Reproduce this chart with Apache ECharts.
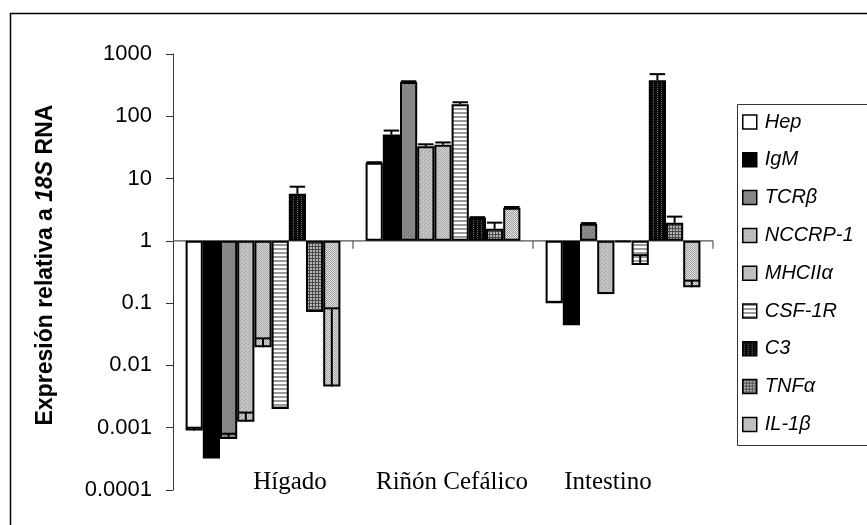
<!DOCTYPE html>
<html>
<head>
<meta charset="utf-8">
<script src="https://cdn.jsdelivr.net/npm/echarts@6/dist/echarts.min.js"></script>
<style>
  html, body { margin: 0; padding: 0; background: #fff; }
  #chart { width: 867px; height: 525px; }
</style>
</head>
<body>
<div id="chart"></div>
<script>
// Tissues on the category axis
const categories = ['Hígado', 'Riñón Cefálico', 'Intestino'];
// Genes, one bar series each
const seriesNames = ['Hep', 'IgM', 'TCRβ', 'NCCRP-1', 'MHCIIα', 'CSF-1R', 'C3', 'TNFα', 'IL-1β'];

// Relative expression (vs 18S RNA), per tissue
const hep    = [0.0009, 18, 0.1];
const igm    = [0.00032, 51, 0.044];
const tcrb   = [0.00066, 355, 1.88];
const nccrp1 = [0.00125, 33, 0.14];
const mhc    = [0.0195, 35, 0.95];
const csf1r  = [0.002, 156, 0.41];
const c3     = [5.7, 2.35, 380];
const tnfa   = [0.072, 1.56, 1.95];
const il1b   = [0.0046, 3.4, 0.18];

// Upper error (added to the value), per tissue
const hepErr    = [0.0001, 0.3, 0.005];
const igmErr    = [0, 8, 0];
const tcrbErr   = [0.00014, 10, 0.05];
const nccrp1Err = [0.0005, 2.5, 0.005];
const mhcErr    = [0.0077, 3, 0];
const csf1rErr  = [0.0001, 12, 0.18];
const c3Err     = [1.7, 0.05, 95];
const tnfaErr   = [0.003, 0.4, 0.5];
const il1bErr   = [0.078, 0.1, 0.05];

// Y axis tick labels, from 10^-4 to 10^3
const yTickLabels = ['0.0001', '0.001', '0.01', '0.1', '1', '10', '100', '1000'];
const baselineValue = 1;

const values = [hep, igm, tcrb, nccrp1, mhc, csf1r, c3, tnfa, il1b];
const errors = [hepErr, igmErr, tcrbErr, nccrp1Err, mhcErr, csf1rErr, c3Err, tnfaErr, il1bErr];

// ---- fill patterns ----
function tile(w, h, bg, fg, pts) {
  const cv = document.createElement('canvas');
  cv.width = w; cv.height = h;
  const ctx = cv.getContext('2d');
  ctx.fillStyle = bg; ctx.fillRect(0, 0, w, h);
  ctx.fillStyle = fg;
  pts.forEach(p => ctx.fillRect(p[0], p[1], p[2] || 1, p[3] || 1));
  return { image: cv, repeat: 'repeat' };
}
const fills = [
  '#ffffff',
  '#000000',
  tile(4, 4, '#8a8a8a', '#6e6e6e', [[0, 0], [2, 2]]),
  tile(4, 4, '#c2c2c2', '#a4a4a4', [[0, 0], [2, 2], [1, 3]]),
  tile(2, 2, '#d6d6d6', '#a8a8a8', [[0, 0], [1, 1]]),
  tile(1, 4, '#ffffff', '#9a9a9a', [[0, 0, 1, 2]]),
  tile(4, 4, '#0a0a0a', '#6a6a6a', [[1, 0], [1, 2]]),
  tile(3, 3, '#b4b4b4', '#4a4a4a', [[0, 0, 3, 1], [0, 0, 1, 3]]),
  tile(2, 2, '#e2e2e2', '#a0a0a0', [[0, 0], [1, 1]])
];

const catGap = 0.14;
const nSeries = seriesNames.length;

const barSeries = seriesNames.map((name, si) => ({
  name: name,
  type: 'bar',
  data: values[si],
  barGap: '0%',
  barCategoryGap: (catGap * 100) + '%',
  z: 2,
  itemStyle: { color: fills[si], borderColor: '#000', borderWidth: 2 }
}));

// error bars, placed over each bar via the axes' own coordinates
const errData = [];
values.forEach((arr, si) => arr.forEach((v, ci) => errData.push([ci, si, v, errors[si][ci]])));

const errorSeries = {
  type: 'custom',
  name: 'errors',
  z: 5,
  silent: true,
  encode: { x: 0, y: 2 },
  data: errData,
  renderItem: function (params, api) {
    const ci = api.value(0), si = api.value(1), v = api.value(2), e = api.value(3);
    if (!e) return null;
    const band = api.size([1, 0])[0];
    const bw = band * (1 - catGap) / nSeries;
    const p0 = api.coord([ci, v]);
    const p1 = api.coord([ci, v + e]);
    const x = p0[0] + (si - (nSeries - 1) / 2) * bw;
    const half = bw * 0.45;
    const st = { stroke: '#000', lineWidth: 2 };
    return {
      type: 'group',
      children: [
        { type: 'line', shape: { x1: x, y1: p0[1], x2: x, y2: p1[1] }, style: st },
        { type: 'line', shape: { x1: x - half, y1: p1[1], x2: x + half, y2: p1[1] }, style: st }
      ]
    };
  }
};

// horizontal axis line crossing the value axis at 1, with category-boundary ticks
const baselineSeries = {
  type: 'custom',
  name: 'baseline',
  z: 1,
  silent: true,
  encode: { x: 0, y: 1 },
  data: categories.map((c, i) => [i, baselineValue]),
  renderItem: function (params, api) {
    const p = api.coord([api.value(0), api.value(1)]);
    const band = api.size([1, 0])[0];
    const st = { stroke: '#555', lineWidth: 1.2 };
    return {
      type: 'group',
      children: [
        { type: 'line', shape: { x1: p[0] - band / 2, y1: p[1], x2: p[0] + band / 2, y2: p[1] }, style: st },
        { type: 'line', shape: { x1: p[0] + band / 2, y1: p[1], x2: p[0] + band / 2, y2: p[1] + 8 }, style: st }
      ]
    };
  }
};

// per-label horizontal nudges of the tissue names
const labelPad = [[0, 0, 0, 54], [0, 0, 0, 18], [0, 30, 0, 0]];
const richCats = {};
labelPad.forEach((pd, i) => {
  richCats['c' + i] = { padding: pd, fontFamily: 'Liberation Serif, Times New Roman, serif', fontSize: 25, color: '#000' };
});

const chart = echarts.init(document.getElementById('chart'), null, { renderer: 'canvas' });
chart.setOption({
  animation: false,
  backgroundColor: '#fff',
  grid: { left: 173, right: 154, top: 54, bottom: 35 },
  graphic: [
    { type: 'rect', left: 8, top: 11, shape: { width: 900, height: 600 }, style: { fill: 'none', stroke: '#000', lineWidth: 1.5 }, z: 0 },
    { type: 'rect', left: 735, top: 102, shape: { width: 200, height: 341 }, style: { fill: 'none', stroke: '#333', lineWidth: 1 }, z: 0 }
  ],
  legend: {
    orient: 'vertical',
    left: 742,
    top: 112,
    itemWidth: 14,
    itemHeight: 14,
    itemGap: 17.8,
    icon: 'rect',
    padding: 0,
    itemStyle: { borderColor: '#000', borderWidth: 1.5 },
    textStyle: { fontFamily: 'Liberation Sans, Arial, sans-serif', fontStyle: 'italic', fontSize: 20, lineHeight: 20, color: '#000', padding: [0, 0, 0, 3] },
    data: seriesNames
  },
  xAxis: {
    type: 'category',
    data: categories,
    position: 'bottom',
    axisLine: { show: false },
    axisTick: { show: false },
    splitLine: { show: false },
    axisLabel: {
      margin: -8,
      verticalAlign: 'middle',
      formatter: function (val, idx) { return '{c' + idx + '|' + val + '}'; },
      rich: richCats
    }
  },
  yAxis: {
    type: 'log',
    logBase: 10,
    min: 0.0001,
    max: 1000,
    splitNumber: 7,
    axisLine: { show: true, lineStyle: { color: '#333', width: 1 } },
    axisTick: { show: true, length: 7, lineStyle: { color: '#333', width: 1 } },
    splitLine: { show: false },
    axisLabel: {
      margin: 21,
      fontFamily: 'Liberation Sans, Arial, sans-serif',
      fontSize: 22,
      color: '#000',
      formatter: function (v) {
        const k = Math.round(Math.log10(v)) + 4;
        return yTickLabels[k] !== undefined ? yTickLabels[k] : '';
      }
    },
    name: '{b|Expresión relativa a }{bi|18S}{b| RNA}',
    nameLocation: 'middle',
    nameRotate: 90,
    nameGap: 116,
    nameTextStyle: {
      padding: [0, 0, 0, 14],
      rich: {
        b: { fontFamily: 'Liberation Sans, Arial, sans-serif', fontWeight: 'bold', fontSize: 23, color: '#000' },
        bi: { fontFamily: 'Liberation Sans, Arial, sans-serif', fontWeight: 'bold', fontStyle: 'italic', fontSize: 23, color: '#000' }
      }
    }
  },
  series: [baselineSeries].concat(barSeries).concat([errorSeries])
});
</script>
</body>
</html>
